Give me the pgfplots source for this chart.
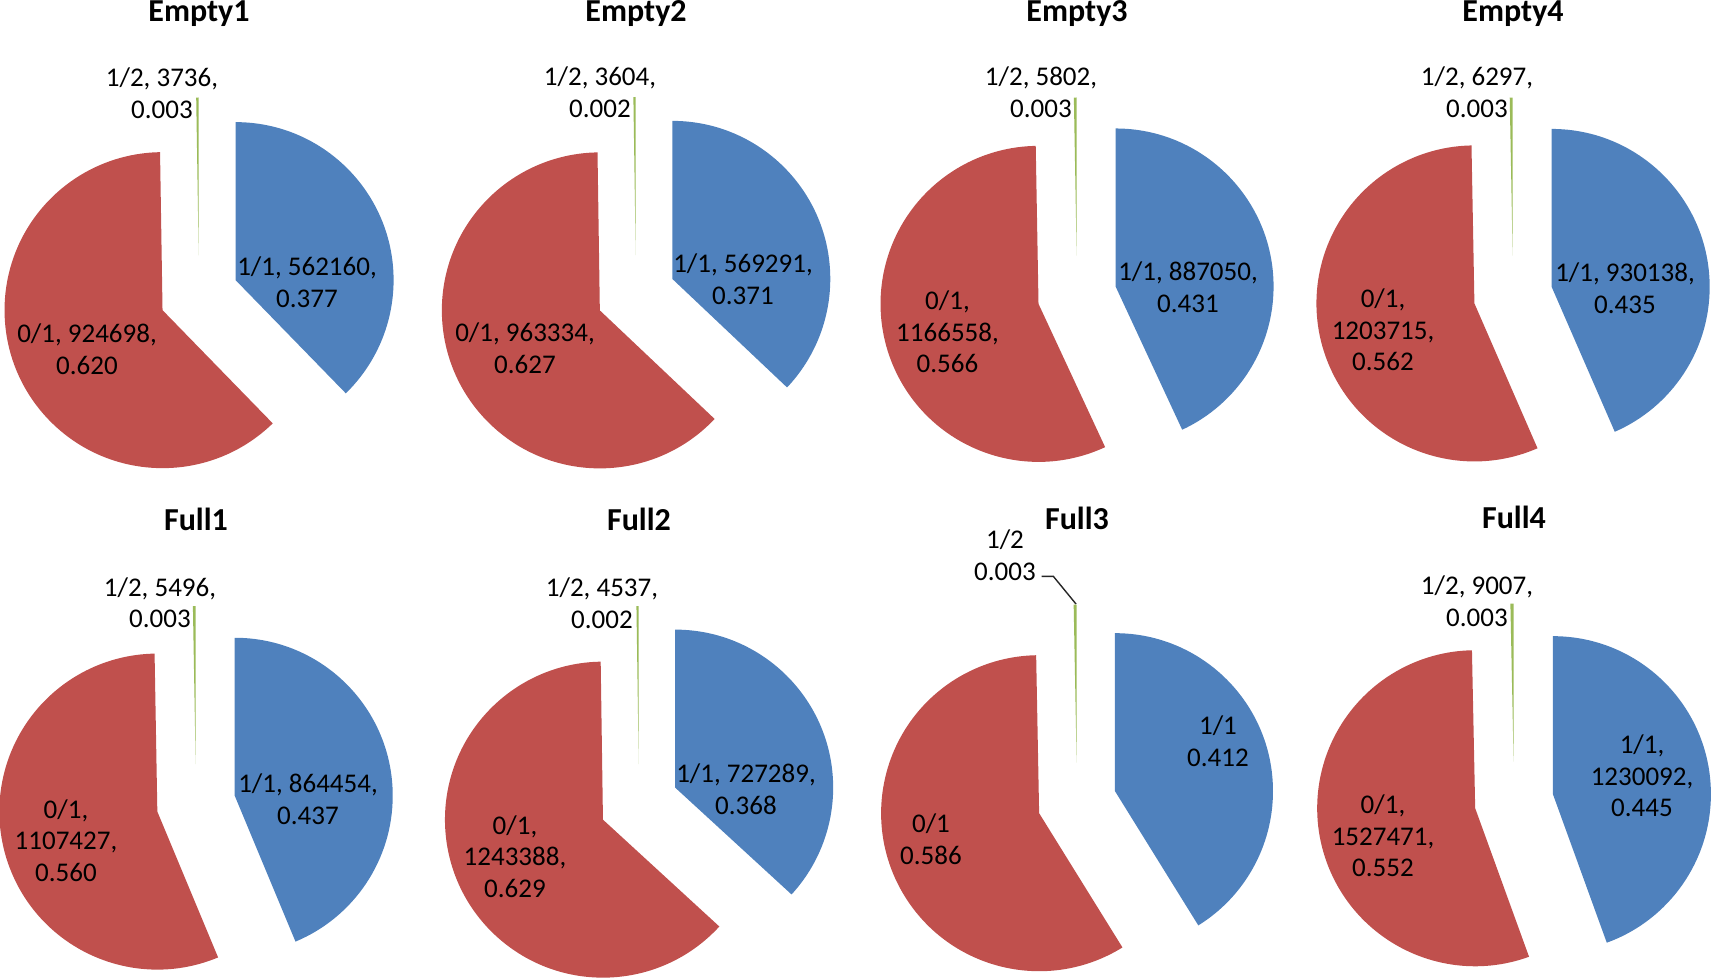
\documentclass[border=0pt]{standalone}
\usepackage{pgfplots}
\pgfplotsset{compat=1.18}
\usepackage{fontspec}
\setmainfont{Carlito}
\definecolor{pieblue}{HTML}{4F81BD}
\definecolor{piered}{HTML}{C0504D}
\definecolor{piegreen}{HTML}{9BBB59}
\tikzset{lbl/.style={align=center, font=\fontsize{13.5}{15.8}\selectfont, inner sep=0pt, text=black}}
\pgfplotsset{every axis title/.style={at={(0.5,1)}, anchor=base, font=\fontsize{16}{19}\selectfont\bfseries}}
% #1 centre x (px), #2 centre y (px, downwards), #3 title,
% #4 value 1/1, #5 value 0/1, #6 value 1/2, #7 labels
\newcommand{\piechart}[7]{%
  \edef\aA{90}%
  \edef\aB{\fpeval{90-360*(#4)/((#4)+(#5)+(#6))}}%
  \edef\aC{\fpeval{\aB-360*(#5)/((#4)+(#5)+(#6))}}%
  \edef\aD{\fpeval{\aC-360*(#6)/((#4)+(#5)+(#6))}}%
  \edef\mA{\fpeval{(\aA+\aB)/2}}%
  \edef\mB{\fpeval{(\aB+\aC)/2}}%
  \edef\mC{\fpeval{(\aC+\aD)/2}}%
  \begin{axis}[at={({(#1-190)*0.5pt},{-(#2+170)*0.5pt})}, anchor=south west,
    scale only axis, width=190pt, height=221.5pt,
    xmin=-190, xmax=190, ymin=-170, ymax=273, enlargelimits=false,
    hide axis, clip=false, title={#3}]
    \fill[pieblue] (axis cs:0,0) ++(\mA:19.75pt) -- ++(\aA:79pt) arc[start angle=\aA, end angle=\aB, radius=79pt] -- cycle;
    \fill[piered] (axis cs:0,0) ++(\mB:19.75pt) -- ++(\aB:79pt) arc[start angle=\aB, end angle=\aC, radius=79pt] -- cycle;
    \fill[piegreen] (axis cs:0,0) ++(\mC:19.75pt) -- ++(\aC:79pt) arc[start angle=\aC, end angle=\aD, radius=79pt] -- cycle;
    #7
  \end{axis}%
}
\begin{document}
\begin{tikzpicture}
\useasboundingbox (0,0) rectangle (856.5pt,-489pt);
\piechart{199}{295}{Empty1}{562160}{924698}{3736}{%
  \node[lbl] at (axis cs:-37,202) {1/2, 3736,\\0.003};
  \node[lbl] at (axis cs:108,13) {1/1, 562160,\\0.377};
  \node[lbl] at (axis cs:-112,-54) {0/1, 924698,\\0.620};}
\piechart{636}{294.5}{Empty2}{569291}{963334}{3604}{%
  \node[lbl] at (axis cs:-36,202) {1/2, 3604,\\0.002};
  \node[lbl] at (axis cs:107,15) {1/1, 569291,\\0.371};
  \node[lbl] at (axis cs:-111,-53.5) {0/1, 963334,\\0.627};}
\piechart{1077}{295}{Empty3}{887050}{1166558}{5802}{%
  \node[lbl] at (axis cs:-36,203) {1/2, 5802,\\0.003};
  \node[lbl] at (axis cs:111,8) {1/1, 887050,\\0.431};
  \node[lbl] at (axis cs:-129.5,-37) {0/1,\\1166558,\\0.566};}
\piechart{1513}{295}{Empty4}{930138}{1203715}{6297}{%
  \node[lbl] at (axis cs:-36,203) {1/2, 6297,\\0.003};
  \node[lbl] at (axis cs:112,7) {1/1, 930138,\\0.435};
  \node[lbl] at (axis cs:-130,-35) {0/1,\\1203715,\\0.562};}
\piechart{196}{803.5}{Full1}{864454}{1107427}{5496}{%
  \node[lbl] at (axis cs:-36,200.7) {1/2, 5496,\\0.003};
  \node[lbl] at (axis cs:112,4) {1/1, 864454,\\0.437};
  \node[lbl] at (axis cs:-130,-37) {0/1,\\1107427,\\0.560};}
\piechart{639}{803.5}{Full2}{727289}{1243388}{4537}{%
  \node[lbl] at (axis cs:-37,200) {1/2, 4537,\\0.002};
  \node[lbl] at (axis cs:107,14.5) {1/1, 727289,\\0.368};
  \node[lbl] at (axis cs:-124,-53) {0/1,\\1243388,\\0.629};}
\piechart{1077}{802}{Full3}{0.412}{0.586}{0.003}{%
  \draw[black!85, line width=0.7pt] (axis cs:-35.3,225.7) -- (axis cs:-23.7,225.7) -- (axis cs:-1,198);
  \node[lbl] at (axis cs:-72,247) {1/2\\0.003};
  \node[lbl] at (axis cs:141,61) {1/1\\0.412};
  \node[lbl] at (axis cs:-146,-37) {0/1\\0.586};}
\piechart{1514}{801}{Full4}{1230092}{1527471}{9007}{%
  \node[lbl] at (axis cs:-37,200) {1/2, 9007,\\0.003};
  \node[lbl] at (axis cs:128,25) {1/1,\\1230092,\\0.445};
  \node[lbl] at (axis cs:-131,-35) {0/1,\\1527471,\\0.552};}
\end{tikzpicture}
\end{document}
